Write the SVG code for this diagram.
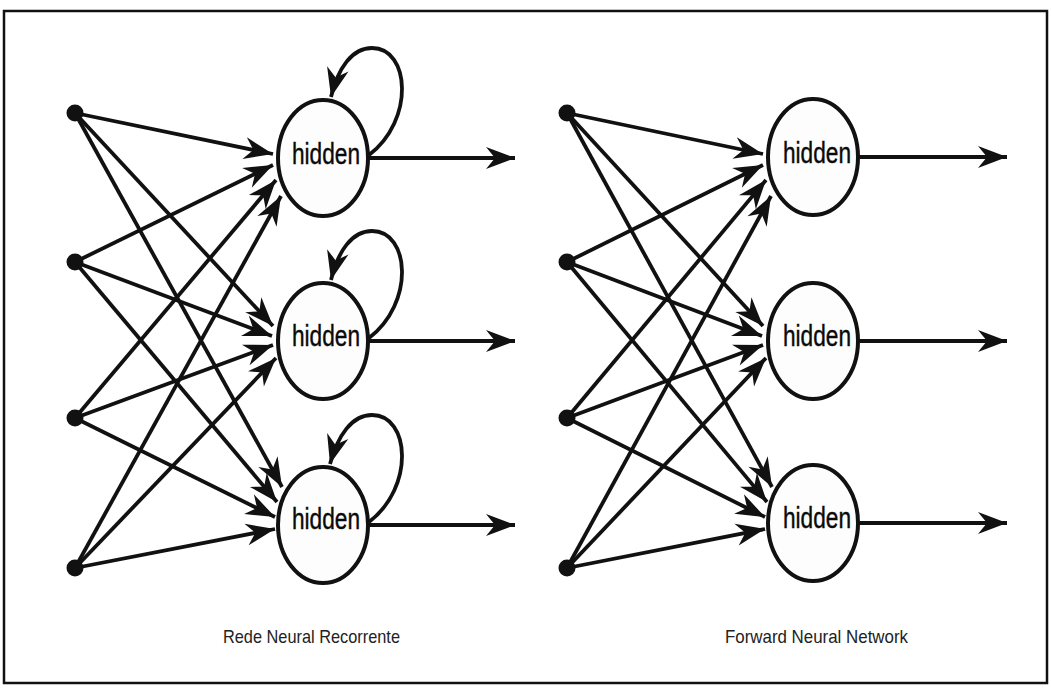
<svg xmlns="http://www.w3.org/2000/svg" width="1051" height="690" viewBox="0 0 1051 690">
  <style>
    .frame { fill: #ffffff; stroke: #111111; stroke-width: 2.5; }
    .dot { fill: #111111; }
    .hid { fill: #fdfdfd; stroke: #111111; stroke-width: 4; }
    .hidtxt { font-family: "Liberation Sans", Arial, sans-serif; font-size: 29px; fill: #0a0a0a; text-anchor: middle; stroke: #0a0a0a; stroke-width: 0.4; }
    .edge { fill: none; stroke: #111111; stroke-width: 3.8; marker-end: url(#barb); }
    .caption { font-family: "Liberation Sans", Arial, sans-serif; font-size: 19px; fill: #222222; }
  </style>
  <defs>
    <marker id="barb" viewBox="-32 -12 34 24" refX="0" refY="0" markerWidth="34" markerHeight="24" markerUnits="userSpaceOnUse" orient="auto">
      <path d="M0,0 L-29,-11 L-20,0 L-29,11 Z" fill="#111111"/>
    </marker>
  </defs>

  <rect class="frame" x="4" y="11" width="1043" height="672"/>

  <!-- connectors -->
  <g id="connectors">
    <!-- recurrent net: inputs to hidden -->
    <line class="edge" x1="75" y1="113" x2="273" y2="154"/>
    <line class="edge" x1="75" y1="262" x2="273" y2="165"/>
    <line class="edge" x1="75" y1="418" x2="276" y2="180"/>
    <line class="edge" x1="75" y1="568" x2="281" y2="196"/>
    <line class="edge" x1="75" y1="113" x2="273" y2="326"/>
    <line class="edge" x1="75" y1="262" x2="272" y2="336"/>
    <line class="edge" x1="75" y1="418" x2="273" y2="345"/>
    <line class="edge" x1="75" y1="568" x2="276" y2="358"/>
    <line class="edge" x1="75" y1="113" x2="282" y2="487"/>
    <line class="edge" x1="75" y1="262" x2="277" y2="502"/>
    <line class="edge" x1="75" y1="418" x2="275" y2="517"/>
    <line class="edge" x1="75" y1="568" x2="275" y2="529"/>
    <!-- recurrent net: outputs -->
    <line class="edge" x1="368" y1="158" x2="515" y2="158"/>
    <line class="edge" x1="368" y1="341" x2="515" y2="341"/>
    <line class="edge" x1="368" y1="525" x2="515" y2="525"/>
    <!-- recurrent net: self loops -->
    <path class="edge" d="M369,155 C415,120 410,48 372,48 C352,48 338,68 331,97"/>
    <path class="edge" d="M369,338 C415,303 410,231 372,231 C352,231 338,251 331,280"/>
    <path class="edge" d="M369,522 C415,487 410,415 372,415 C352,415 338,435 330,464"/>

    <!-- feed-forward net: inputs to hidden -->
    <line class="edge" x1="567" y1="113" x2="763" y2="154"/>
    <line class="edge" x1="567" y1="262" x2="763" y2="165"/>
    <line class="edge" x1="567" y1="418" x2="766" y2="180"/>
    <line class="edge" x1="567" y1="568" x2="771" y2="196"/>
    <line class="edge" x1="567" y1="113" x2="763" y2="326"/>
    <line class="edge" x1="567" y1="262" x2="762" y2="336"/>
    <line class="edge" x1="567" y1="418" x2="763" y2="345"/>
    <line class="edge" x1="567" y1="568" x2="766" y2="358"/>
    <line class="edge" x1="567" y1="113" x2="772" y2="487"/>
    <line class="edge" x1="567" y1="262" x2="767" y2="502"/>
    <line class="edge" x1="567" y1="418" x2="765" y2="517"/>
    <line class="edge" x1="567" y1="568" x2="765" y2="529"/>
    <!-- feed-forward net: outputs -->
    <line class="edge" x1="858" y1="157" x2="1007" y2="157"/>
    <line class="edge" x1="858" y1="341" x2="1007" y2="341"/>
    <line class="edge" x1="858" y1="523" x2="1007" y2="523"/>
  </g>

  <!-- recurrent net nodes -->
  <g id="rnn-in1"><circle class="dot" cx="75" cy="113" r="8.5"/></g>
  <g id="rnn-in2"><circle class="dot" cx="75" cy="262" r="8.5"/></g>
  <g id="rnn-in3"><circle class="dot" cx="75" cy="418" r="8.5"/></g>
  <g id="rnn-in4"><circle class="dot" cx="75" cy="568" r="8.5"/></g>
  <g id="rnn-h1">
    <ellipse class="hid" cx="323" cy="158" rx="45" ry="58"/>
    <text class="hidtxt" x="326" y="164" textLength="68" lengthAdjust="spacingAndGlyphs">hidden</text>
  </g>
  <g id="rnn-h2">
    <ellipse class="hid" cx="323" cy="341" rx="45" ry="58"/>
    <text class="hidtxt" x="326" y="346" textLength="68" lengthAdjust="spacingAndGlyphs">hidden</text>
  </g>
  <g id="rnn-h3">
    <ellipse class="hid" cx="323" cy="525" rx="45" ry="58"/>
    <text class="hidtxt" x="326" y="529" textLength="68" lengthAdjust="spacingAndGlyphs">hidden</text>
  </g>

  <!-- feed-forward net nodes -->
  <g id="ffn-in1"><circle class="dot" cx="567" cy="113" r="8.5"/></g>
  <g id="ffn-in2"><circle class="dot" cx="567" cy="262" r="8.5"/></g>
  <g id="ffn-in3"><circle class="dot" cx="567" cy="418" r="8.5"/></g>
  <g id="ffn-in4"><circle class="dot" cx="567" cy="568" r="8.5"/></g>
  <g id="ffn-h1">
    <ellipse class="hid" cx="813" cy="157" rx="45" ry="58"/>
    <text class="hidtxt" x="817" y="163" textLength="68" lengthAdjust="spacingAndGlyphs">hidden</text>
  </g>
  <g id="ffn-h2">
    <ellipse class="hid" cx="813" cy="341" rx="45" ry="58"/>
    <text class="hidtxt" x="817" y="346" textLength="68" lengthAdjust="spacingAndGlyphs">hidden</text>
  </g>
  <g id="ffn-h3">
    <ellipse class="hid" cx="813" cy="523" rx="45" ry="58"/>
    <text class="hidtxt" x="817" y="528" textLength="68" lengthAdjust="spacingAndGlyphs">hidden</text>
  </g>

  <!-- captions -->
  <text class="caption" x="223" y="643" textLength="177" lengthAdjust="spacingAndGlyphs">Rede Neural Recorrente</text>
  <text class="caption" x="725" y="643" textLength="183" lengthAdjust="spacingAndGlyphs">Forward Neural Network</text>
</svg>
